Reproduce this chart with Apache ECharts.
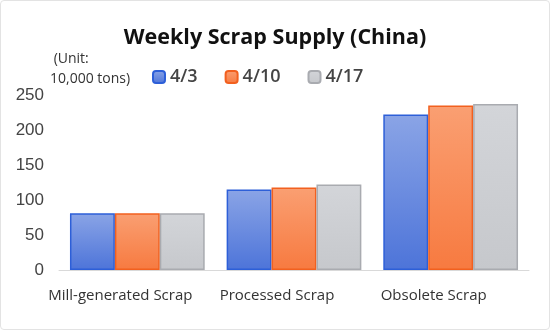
<!DOCTYPE html>
<html>
<head>
<meta charset="utf-8">
<script src="https://cdn.jsdelivr.net/npm/echarts@6/dist/echarts.min.js"></script>
<style>
  html, body { margin: 0; padding: 0; background: #fff; }
  #chart { width: 548px; height: 328px; border: 1px solid #e3e3e3; border-radius: 4px; }
</style>
</head>
<body>
<div id="chart"></div>
<script>
const categories = ['Mill-generated Scrap', 'Processed Scrap', 'Obsolete Scrap']
const weeks = ['4/3', '4/10', '4/17']
const week1 = [81, 115, 222]
const week2 = [81, 118, 235]
const week3 = [81, 122, 237]
const yTicks = [0, 50, 100, 150, 200, 250]

const chart = echarts.init(document.getElementById('chart'))

// gradient fill + darker edge, like the office-style bars
function barStyle(top, bottom, border) {
  return {
    color: new echarts.graphic.LinearGradient(0, 0, 0, 1, [
      { offset: 0, color: top },
      { offset: 1, color: bottom }
    ]),
    borderColor: border,
    borderWidth: 1.5
  }
}
const styles = [
  barStyle('#8aa4e6', '#4d74d9', '#2d5fd8'),
  barStyle('#fa9f72', '#f77a40', '#f2601f'),
  barStyle('#d3d5d9', '#c6c8cc', '#a9abb0')
]
const values = [week1, week2, week3]

const option = {
  animation: false,
  title: {
    text: 'Weekly Scrap Supply (China)',
    left: 'center',
    top: 21,
    textStyle: { fontFamily: 'Open Sans', fontSize: 21.5, fontWeight: 'bold', color: '#111' }
  },
  graphic: [{
    type: 'text',
    left: 49,
    top: 48,
    style: {
      text: ' (Unit:\n10,000 tons)',
      font: '14px "Open Sans"',
      fill: '#333',
      lineHeight: 20
    }
  }],
  legend: {
    data: weeks,
    left: 146,
    top: 62,
    itemWidth: 12,
    itemHeight: 12,
    itemGap: 27,
    textStyle: { fontFamily: 'Open Sans', fontSize: 18, fontWeight: 600, color: '#444' }
  },
  grid: { left: 58, right: 20, top: 94, bottom: 59 },
  xAxis: {
    type: 'category',
    data: categories,
    axisLine: { lineStyle: { color: '#d9d9d9', width: 1 } },
    axisTick: { show: false },
    axisLabel: {
      interval: 0, fontFamily: 'Open Sans', fontSize: 15, color: '#333', margin: 18,
      padding: [0, 34, 0, 0]
    }
  },
  yAxis: {
    type: 'value',
    min: yTicks[0],
    max: yTicks[yTicks.length - 1],
    interval: 50,
    splitLine: { show: false },
    axisLine: { show: false },
    axisTick: { show: false },
    axisLabel: { fontFamily: 'Liberation Sans', fontSize: 17, color: '#444', margin: 15 }
  },
  series: weeks.map((w, i) => ({
    name: w,
    type: 'bar',
    data: values[i],
    barGap: '0%',
    barCategoryGap: '14%',
    itemStyle: styles[i]
  }))
}
chart.setOption(option)
</script>
</body>
</html>
